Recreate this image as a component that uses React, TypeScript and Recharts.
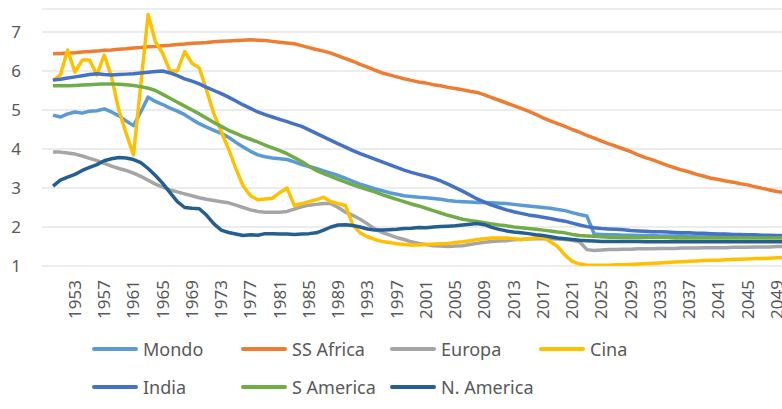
import { LineChart, Line, XAxis, YAxis, CartesianGrid } from 'recharts'

// yearly values, 1950 -> 2050
const YEARS = Array.from({ length: 101 }, (_, i) => 1950 + i)

const MONDO = [
  4.87, 4.82, 4.9, 4.95, 4.92, 4.97, 4.98, 5.03, 4.95, 4.85,
  4.72, 4.6, 4.95, 5.33, 5.22, 5.14, 5.05, 4.97, 4.88, 4.76,
  4.65, 4.56, 4.48, 4.4, 4.3, 4.17, 4.05, 3.94, 3.85, 3.8,
  3.77, 3.75, 3.73, 3.67, 3.6, 3.55, 3.5, 3.44, 3.38, 3.32,
  3.25, 3.17, 3.1, 3.04, 2.98, 2.93, 2.88, 2.84, 2.8, 2.78,
  2.76, 2.75, 2.73, 2.71, 2.68, 2.66, 2.65, 2.64, 2.63, 2.63,
  2.62, 2.61, 2.6, 2.58, 2.56, 2.54, 2.52, 2.5, 2.48, 2.45,
  2.42, 2.37, 2.32, 2.28, 1.82, 1.81, 1.8, 1.8, 1.79, 1.79,
  1.78, 1.78, 1.78, 1.77, 1.77, 1.77, 1.77, 1.76, 1.76, 1.76,
  1.76, 1.76, 1.75, 1.75, 1.75, 1.75, 1.75, 1.75, 1.74, 1.74,
  1.74,
]

const SS_AFRICA = [
  6.44, 6.45, 6.46, 6.47, 6.49, 6.5, 6.51, 6.53, 6.54, 6.56,
  6.57, 6.59, 6.6, 6.62, 6.63, 6.65, 6.66, 6.68, 6.69, 6.71,
  6.72, 6.73, 6.75, 6.76, 6.77, 6.78, 6.79, 6.8, 6.79, 6.78,
  6.76, 6.74, 6.72, 6.7, 6.65, 6.6, 6.55, 6.51, 6.46, 6.39,
  6.32, 6.25, 6.17, 6.1, 6.02, 5.95, 5.9, 5.85, 5.8, 5.76,
  5.72, 5.69, 5.65, 5.62, 5.58, 5.55, 5.52, 5.48, 5.45, 5.39,
  5.32, 5.25, 5.18, 5.11, 5.04, 4.97, 4.89, 4.8, 4.72, 4.65,
  4.58, 4.5, 4.43, 4.35, 4.28, 4.2, 4.13, 4.07, 4.0, 3.93,
  3.85, 3.78, 3.72, 3.65, 3.58, 3.52, 3.46, 3.41, 3.35, 3.3,
  3.25, 3.22, 3.18, 3.15, 3.11, 3.08, 3.03, 2.99, 2.95, 2.91,
  2.88,
]

const EUROPA = [
  3.92, 3.92, 3.9, 3.87, 3.82, 3.76, 3.7, 3.63, 3.56, 3.5,
  3.45, 3.38, 3.3, 3.2, 3.1, 3.02, 2.95, 2.9, 2.85, 2.8,
  2.75, 2.71, 2.68, 2.65, 2.62, 2.56, 2.5, 2.44, 2.4, 2.38,
  2.38, 2.38, 2.4, 2.46, 2.52, 2.56, 2.58, 2.6, 2.6, 2.5,
  2.38, 2.3, 2.2, 2.08, 1.95, 1.86, 1.8, 1.73, 1.68, 1.62,
  1.58, 1.55, 1.52, 1.51, 1.5, 1.51, 1.52, 1.55, 1.58, 1.61,
  1.63, 1.64, 1.65, 1.67, 1.68, 1.69, 1.7, 1.7, 1.7, 1.69,
  1.68, 1.66, 1.62, 1.42, 1.4, 1.41, 1.42, 1.42, 1.43, 1.43,
  1.44, 1.44, 1.44, 1.45, 1.45, 1.45, 1.46, 1.46, 1.46, 1.47,
  1.47, 1.47, 1.47, 1.48, 1.48, 1.48, 1.49, 1.49, 1.49, 1.5,
  1.5,
]

const CINA = [
  5.75, 5.9, 6.54, 5.97, 6.28, 6.28, 5.9, 6.41, 5.85, 5.0,
  4.4, 3.85, 5.65, 7.45, 6.75, 6.45, 6.0, 6.0, 6.5, 6.2,
  6.08, 5.5, 4.9, 4.45, 4.0, 3.5, 3.05, 2.8, 2.7, 2.72,
  2.74, 2.88, 3.0, 2.55, 2.6, 2.65, 2.7, 2.76, 2.65, 2.6,
  2.55, 2.05, 1.85, 1.75, 1.68, 1.63, 1.6, 1.57, 1.55, 1.54,
  1.54, 1.55, 1.56, 1.57, 1.58, 1.6, 1.62, 1.65, 1.68, 1.7,
  1.72, 1.72, 1.72, 1.7, 1.68, 1.7, 1.72, 1.74, 1.62, 1.5,
  1.28, 1.12, 1.05, 1.02, 1.02, 1.02, 1.02, 1.03, 1.03, 1.04,
  1.05, 1.06, 1.07, 1.08, 1.09, 1.1, 1.11, 1.12, 1.13, 1.14,
  1.15, 1.15, 1.16, 1.17, 1.17, 1.18, 1.19, 1.19, 1.2, 1.21,
  1.22,
]

const INDIA = [
  5.77, 5.79, 5.82, 5.85, 5.88, 5.91, 5.93, 5.91, 5.9, 5.91,
  5.92, 5.93, 5.95, 5.97, 5.99, 6.0, 5.95, 5.88, 5.8, 5.74,
  5.67, 5.58, 5.5, 5.42, 5.33, 5.23, 5.13, 5.04, 4.95, 4.88,
  4.82, 4.76, 4.7, 4.64, 4.58, 4.49, 4.4, 4.31, 4.22, 4.13,
  4.05, 3.96, 3.88, 3.81, 3.74, 3.67, 3.6, 3.53, 3.46, 3.4,
  3.35, 3.3, 3.25, 3.18, 3.1, 3.01, 2.92, 2.82, 2.72, 2.64,
  2.56, 2.5, 2.44, 2.39, 2.35, 2.31, 2.28, 2.25, 2.22, 2.18,
  2.15, 2.1, 2.05, 2.01, 1.98, 1.96, 1.95, 1.94, 1.93, 1.91,
  1.9, 1.89, 1.88, 1.88, 1.87, 1.86, 1.85, 1.85, 1.84, 1.84,
  1.83, 1.82, 1.82, 1.81, 1.81, 1.8, 1.8, 1.79, 1.79, 1.78,
  1.78,
]

const S_AMERICA = [
  5.62, 5.62, 5.62, 5.63, 5.64, 5.65, 5.66, 5.67, 5.67, 5.66,
  5.65, 5.63, 5.6, 5.56, 5.5, 5.4, 5.3, 5.2, 5.1, 5.0,
  4.9, 4.79, 4.68, 4.58, 4.48, 4.4, 4.32, 4.25, 4.18, 4.1,
  4.03, 3.96, 3.88, 3.78, 3.68, 3.56, 3.45, 3.37, 3.3, 3.22,
  3.15, 3.08, 3.02, 2.96, 2.9, 2.83, 2.77, 2.71, 2.65, 2.59,
  2.54, 2.48, 2.42, 2.36, 2.3, 2.25, 2.2, 2.17, 2.14, 2.11,
  2.08, 2.05, 2.03, 2.0, 1.98, 1.96, 1.94, 1.92, 1.9, 1.87,
  1.85, 1.81, 1.78, 1.77, 1.76, 1.75, 1.74, 1.74, 1.73, 1.73,
  1.73, 1.73, 1.73, 1.73, 1.73, 1.72, 1.72, 1.72, 1.72, 1.72,
  1.72, 1.72, 1.72, 1.72, 1.72, 1.72, 1.72, 1.72, 1.72, 1.72,
  1.72,
]

const N_AMERICA = [
  3.05, 3.2, 3.28, 3.35, 3.45, 3.53, 3.6, 3.7, 3.75, 3.78,
  3.77, 3.73, 3.65, 3.5, 3.32, 3.12, 2.88, 2.65, 2.5, 2.48,
  2.47, 2.3, 2.08, 1.92, 1.86, 1.82, 1.78, 1.8, 1.79, 1.83,
  1.83, 1.82, 1.82, 1.81, 1.82, 1.83, 1.85, 1.92, 2.0, 2.05,
  2.06, 2.04, 2.0, 1.95, 1.92, 1.92, 1.93, 1.94, 1.96, 1.97,
  1.99, 1.98, 2.0, 2.01, 2.02, 2.03, 2.05, 2.07, 2.09, 2.06,
  1.99, 1.94, 1.9, 1.87, 1.85, 1.83, 1.8, 1.78, 1.75, 1.72,
  1.7, 1.68, 1.66, 1.65, 1.64, 1.63, 1.63, 1.63, 1.63, 1.63,
  1.63, 1.62, 1.62, 1.62, 1.62, 1.62, 1.62, 1.62, 1.62, 1.62,
  1.62, 1.62, 1.62, 1.62, 1.62, 1.62, 1.62, 1.62, 1.62, 1.62,
  1.62,
]

const X_TICKS = [
  1953, 1957, 1961, 1965, 1969, 1973, 1977, 1981, 1985, 1989, 1993, 1997, 2001,
  2005, 2009, 2013, 2017, 2021, 2025, 2029, 2033, 2037, 2041, 2045, 2049,
]
const Y_TICKS = [1, 2, 3, 4, 5, 6, 7]

const SERIES = [
  { key: 'mondo', name: 'Mondo', color: '#5b9bd5' },
  { key: 'ssAfrica', name: 'SS Africa', color: '#ed7d31' },
  { key: 'europa', name: 'Europa', color: '#a5a5a5' },
  { key: 'cina', name: 'Cina', color: '#ffc000' },
  { key: 'india', name: 'India', color: '#4472c4' },
  { key: 'sAmerica', name: 'S America', color: '#70ad47' },
  { key: 'nAmerica', name: 'N. America', color: '#255e91' },
]

const data = YEARS.map((year, i) => ({
  year,
  mondo: MONDO[i],
  ssAfrica: SS_AFRICA[i],
  europa: EUROPA[i],
  cina: CINA[i],
  india: INDIA[i],
  sAmerica: S_AMERICA[i],
  nAmerica: N_AMERICA[i],
}))

const FONT = '"Noto Sans", sans-serif'
const TEXT = '#595959'

const XTick = ({ x, y, payload }: any) => (
  <text
    x={x}
    y={y}
    transform={`rotate(-90, ${x}, ${y})`}
    textAnchor="end"
    dy="0.35em"
    fill={TEXT}
    fontSize={17}
    fontFamily={FONT}
  >
    {payload.value}
  </text>
)

const YTick = ({ y, payload }: any) => (
  <text x={16} y={y} textAnchor="middle" dy="0.35em" fill={TEXT} fontSize={17} fontFamily={FONT}>
    {payload.value}
  </text>
)

const LEGEND_ROWS = [SERIES.slice(0, 4), SERIES.slice(4)]

export default function App() {
  return (
    <div
      style={{
        position: 'absolute', left: 0, top: 0, width: 782, height: 409,
        overflow: 'hidden', background: '#fff',
      }}
    >
      <LineChart
        width={800}
        height={409}
        data={data}
        margin={{ top: 9, right: 5, left: 0, bottom: 83 }}
      >
        <CartesianGrid vertical={false} stroke="#d9d9d9" />
        <XAxis
          dataKey="year"
          type="number"
          domain={[1948.49, 2051.46]}
          ticks={X_TICKS}
          interval={0}
          height={60}
          axisLine={false}
          tickLine={false}
          tickSize={0}
          tickMargin={14}
          tick={<XTick />}
        />
        <YAxis
          type="number"
          domain={[1, 7.59]}
          ticks={Y_TICKS}
          width={42}
          axisLine={false}
          tickLine={false}
          tick={<YTick />}
          allowDataOverflow
        />
        {SERIES.map((s) => (
          <Line
            key={s.key}
            dataKey={s.key}
            name={s.name}
            stroke={s.color}
            strokeWidth={3.5}
            strokeLinejoin="round"
            dot={false}
            type="linear"
            isAnimationActive={false}
          />
        ))}
      </LineChart>
      <div style={{ position: 'absolute', left: 92, top: 337, fontFamily: FONT, fontSize: 18, color: TEXT }}>
        {LEGEND_ROWS.map((row, r) => (
          <div key={r} style={{ display: 'flex', height: 38, alignItems: 'flex-start' }}>
            {row.map((s) => (
              <div key={s.key} style={{ width: 149, display: 'flex', alignItems: 'center', height: 24 }}>
                <span style={{ width: 46, height: 4, background: s.color, borderRadius: 2, marginRight: 5 }} />
                <span style={{ lineHeight: '24px' }}>{s.name}</span>
              </div>
            ))}
          </div>
        ))}
      </div>
    </div>
  )
}
